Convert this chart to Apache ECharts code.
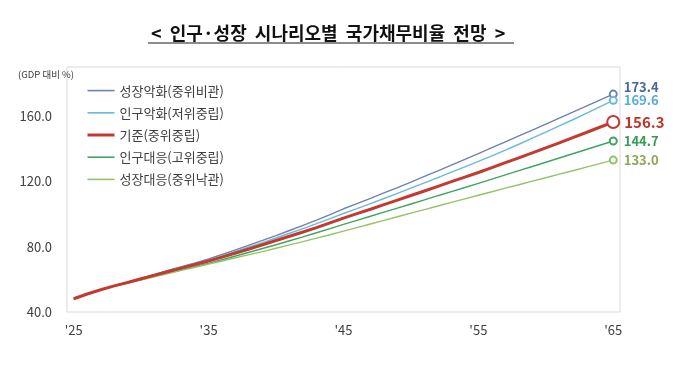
<!DOCTYPE html>
<html><head><meta charset="utf-8">
<script src="https://cdn.jsdelivr.net/npm/echarts@6/dist/echarts.min.js"></script>
<style>html,body{margin:0;padding:0;background:#fff}#c{width:680px;height:387px}</style>
</head><body><div id="c"></div>
<script>
const titleText = "<  인구·성장  시나리오별  국가채무비율  전망  >";
const unitText = "(GDP 대비 %)";
const years = [];
for (let y = 2025; y <= 2065; y++) years.push(String(y));
const seriesNames = ["성장악화(중위비관)", "인구악화(저위중립)", "기준(중위중립)", "인구대응(고위중립)", "성장대응(중위낙관)"];
const growthWorse = [48.1,51.0,53.6,56.0,58.2,60.6,63.0,65.4,67.8,70.1,72.5,75.2,78.0,80.9,83.8,86.8,89.9,93.0,96.2,99.6,103.2,106.4,109.6,112.9,116.2,119.5,123.0,126.4,129.9,133.4,137.0,140.6,144.2,147.8,151.4,155.0,158.7,162.4,166.0,169.7,173.4];
const popWorse = [48.1,51.0,53.6,56.0,58.2,60.5,62.8,65.1,67.4,69.6,71.8,74.4,77.1,79.8,82.5,85.3,88.2,91.1,94.1,97.2,100.3,103.3,106.4,109.5,112.6,115.8,119.0,122.3,125.6,128.9,132.2,135.6,139.1,142.7,146.4,150.1,153.9,157.7,161.6,165.6,169.6];
const baseline = [48.1,51.0,53.6,56.0,58.1,60.4,62.6,64.8,67.0,69.1,71.2,73.6,76.1,78.6,81.2,83.8,86.4,89.0,91.7,94.6,97.5,100.2,102.9,105.7,108.5,111.3,114.1,116.9,119.8,122.6,125.4,128.4,131.4,134.4,137.4,140.5,143.6,146.8,149.9,153.1,156.3];
const popResponse = [48.1,51.0,53.6,55.9,57.9,59.9,62.0,64.0,66.0,67.9,69.8,72.0,74.3,76.6,78.9,81.2,83.6,86.0,88.5,91.0,93.6,96.1,98.6,101.1,103.6,106.1,108.6,111.2,113.7,116.2,118.8,121.4,124.0,126.6,129.1,131.7,134.3,136.9,139.5,142.1,144.7];
const growthResponse = [48.1,51.0,53.6,55.9,57.8,59.6,61.6,63.6,65.5,67.4,69.3,71.2,73.2,75.1,77.0,79.0,81.1,83.1,85.2,87.3,89.5,91.7,93.9,96.1,98.3,100.5,102.7,104.9,107.1,109.3,111.5,113.6,115.8,117.9,120.1,122.2,124.4,126.5,128.7,130.8,133.0];
const allData = [growthWorse, popWorse, baseline, popResponse, growthResponse];

const lineColors = ["#7180b3", "#6cb8d8", "#c23a30", "#3ea466", "#95c265"];
const labelColors = ["#4a6898", "#5aabd8", "#c0352b", "#3a9a58", "#8aab55"];
const lineWidths = [1.4, 1.4, 3, 1.4, 1.4];
const endSizes = [7, 7, 12, 7, 7];
const labelOffsets = [[0, -7], [0, 0], [0, 0], [0, 0], [0, 0]];
const FONT = "Noto Sans CJK KR";

const series = seriesNames.map((name, i) => {
  const d = allData[i];
  const last = d.length - 1;
  return {
    name, type: "line", data: d,
    symbol: "emptyCircle", showSymbol: true,
    symbolSize: (v, p) => (p.dataIndex === last ? endSizes[i] : 0),
    lineStyle: { color: lineColors[i], width: lineWidths[i] },
    itemStyle: { color: lineColors[i], borderColor: lineColors[i], borderWidth: i === 2 ? 2.5 : 1.2 },
    label: {
      show: true, position: "right", distance: i === 2 ? 4 : 6, offset: labelOffsets[i],
      formatter: (p) => (p.dataIndex === last ? p.value.toFixed(1) : ""),
      color: labelColors[i], fontWeight: "bold", fontSize: i === 2 ? 15 : 13, fontFamily: FONT
    },
    z: i === 2 ? 5 : 2,
    animation: false
  };
});

const chart = echarts.init(document.getElementById("c"));
chart.setOption({
  backgroundColor: "#fff",
  animation: false,
  title: [
    { text: titleText, left: 146, top: 19, textStyle: { fontFamily: FONT, fontSize: 18, fontWeight: "bold", color: "#111" } },
    { text: unitText, left: 13, top: 65, textStyle: { fontFamily: FONT, fontSize: 9.5, fontWeight: "normal", color: "#404040" } }
  ],
  graphic: [
    { type: "line", shape: { x1: 148, y1: 43, x2: 514, y2: 43 }, style: { stroke: "#8c8c8c", lineWidth: 2 } }
  ],
  legend: {
    orient: "vertical", left: 81, top: 79, itemGap: 9, itemWidth: 27, itemHeight: 14,
    itemStyle: { opacity: 0 },
    textStyle: { fontFamily: FONT, fontSize: 13, color: "#404040" },
    data: seriesNames.map((n, i) => ({ name: n, lineStyle: { width: i === 2 ? 3 : 1.6 } }))
  },
  grid: { left: 67, right: 60, top: 67, bottom: 75, show: true, borderColor: "#d9d9d9", borderWidth: 1, containLabel: false },
  xAxis: {
    type: "category", data: years, boundaryGap: true,
    axisLine: { show: false }, axisTick: { show: false },
    axisLabel: { interval: 9, margin: 12, color: "#404040", fontSize: 13, fontFamily: FONT, formatter: (v) => "'" + v.slice(2) }
  },
  yAxis: {
    type: "value", min: 40, max: 190, interval: 40,
    axisLine: { show: false }, axisTick: { show: false }, splitLine: { show: false },
    axisLabel: { margin: 15, color: "#404040", fontSize: 13, fontFamily: FONT, showMaxLabel: false, formatter: (v) => v.toFixed(1) }
  },
  series
});
</script>
</body></html>
